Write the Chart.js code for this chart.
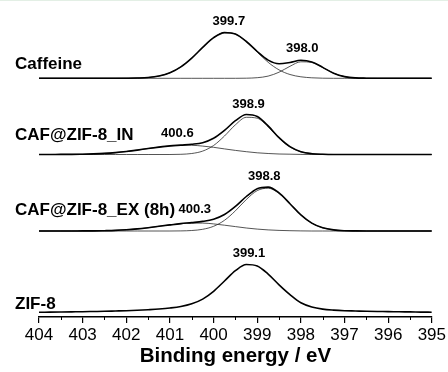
<!DOCTYPE html>
<html>
<head>
<meta charset="utf-8">
<script src="https://cdn.jsdelivr.net/npm/chart.js@4"></script>
<style>
    body { margin: 0; background: #fff; }
    #topline { position: absolute; top: 0; left: 0; width: 448px; height: 1px; background: #e3efe5; }
</style>
</head>
<body>
<div id="topline"></div>
<canvas id="xpsChart" width="448" height="372"></canvas>
<script>
// Binding energy grid (eV)
const energy = [404, 403.75, 403.5, 403.25, 403, 402.75, 402.5, 402.25, 402, 401.75, 401.5, 401.25, 401,
    400.75, 400.5, 400.25, 400, 399.75, 399.5, 399.25, 399, 398.75, 398.5, 398.25, 398, 397.75, 397.5,
    397.25, 397, 396.75, 396.5, 396.25, 396, 395.75, 395.5, 395.25, 395];

// Intensities (a.u.), relative to each spectrum's baseline
const caffeineEnv = [0, 0, 0, 0, 0, 0, 0, 0, 0.1, 0.3, 0.8, 2.3, 5.5, 11.4, 20.2, 30.9, 40.6, 45.7, 44.2, 36.8, 26.8, 18.2, 14.5, 15.8, 18.0, 16.4, 10.9, 5.1, 1.7, 0.4, 0.1, 0, 0, 0, 0, 0, 0];
const caffeineC1 = [0, 0, 0, 0, 0, 0, 0, 0, 0.1, 0.3, 0.8, 2.3, 5.5, 11.4, 20.2, 30.9, 40.6, 45.7, 44.2, 36.7, 26.2, 16.0, 8.4, 3.8, 1.5, 0.5, 0.1, 0, 0, 0, 0, 0, 0, 0, 0, 0, 0];
const caffeineC2 = [0, 0, 0, 0, 0, 0, 0, 0, 0, 0, 0, 0, 0, 0, 0, 0, 0, 0, 0, 0.1, 0.6, 2.2, 6.1, 12.0, 16.5, 15.9, 10.8, 5.1, 1.7, 0.4, 0.1, 0, 0, 0, 0, 0, 0];

const inEnv = [0, 0, 0.1, 0.1, 0.3, 0.6, 1.1, 1.9, 3.0, 4.4, 6.0, 7.4, 8.6, 9.4, 10.2, 11.8, 16.2, 24.1, 33.8, 40.0, 38.0, 28.6, 16.8, 7.8, 2.8, 0.8, 0.2, 0, 0, 0, 0, 0, 0, 0, 0, 0, 0];
const inC1 = [0, 0, 0, 0, 0, 0, 0, 0, 0, 0, 0, 0, 0, 0.2, 1.0, 3.4, 9.0, 18.5, 29.7, 37.2, 36.3, 27.6, 16.3, 7.5, 2.7, 0.8, 0.2, 0, 0, 0, 0, 0, 0, 0, 0, 0, 0];
const inC2 = [0, 0, 0.1, 0.1, 0.3, 0.6, 1.1, 1.9, 3.0, 4.4, 6.0, 7.4, 8.6, 9.2, 9.2, 8.4, 7.2, 5.6, 4.1, 2.8, 1.7, 1.0, 0.5, 0.3, 0.1, 0, 0, 0, 0, 0, 0, 0, 0, 0, 0, 0, 0];

const exEnv = [0, 0, 0, 0, 0.1, 0.1, 0.3, 0.6, 1.2, 2.1, 3.3, 4.7, 6.1, 7.4, 8.4, 9.6, 11.8, 16.5, 24.6, 34.5, 42.3, 43.9, 38.1, 27.3, 16.2, 7.9, 3.2, 1.1, 0.3, 0.1, 0, 0, 0, 0, 0, 0, 0];
const exC1 = [0, 0, 0, 0, 0, 0, 0, 0, 0, 0, 0, 0, 0, 0.1, 0.5, 1.7, 4.7, 10.7, 20.2, 31.5, 40.4, 42.8, 37.5, 27.0, 16.1, 7.9, 3.2, 1.1, 0.3, 0.1, 0, 0, 0, 0, 0, 0, 0];
const exC2 = [0, 0, 0, 0, 0.1, 0.1, 0.3, 0.6, 1.2, 2.1, 3.3, 4.7, 6.1, 7.3, 7.9, 7.9, 7.1, 5.8, 4.4, 3.0, 1.9, 1.1, 0.6, 0.3, 0.1, 0, 0, 0, 0, 0, 0, 0, 0, 0, 0, 0, 0];

const zif8 = [0, 0.15, 0.3, 0.45, 0.6, 0.8, 1.0, 1.3, 1.6, 2.0, 2.6, 3.3, 4.3, 5.8, 8.5, 13.2, 21.0, 31.3, 41.6, 47.8, 46.3, 38.2, 27.5, 17.7, 9.5, 5.3, 3.2, 2.2, 1.6, 1.3, 1.0, 0.8, 0.7, 0.5, 0.4, 0.2, 0.1];

// Sample names, top to bottom
const samples = ['Caffeine', 'CAF@ZIF-8_IN', 'CAF@ZIF-8_EX (8h)', 'ZIF-8'];

// Peak labels: text, energy (eV), spectrum index
const peakText = ['399.7', '398.0', '398.9', '400.6', '398.8', '400.3', '399.1'];
const peakEnergy = [399.65, 397.97, 399.2, 400.83, 398.84, 400.43, 399.19];
const peakSpectrum = [0, 0, 1, 1, 2, 2, 3];

// X axis ticks
const majorTicks = [404, 403, 402, 401, 400, 399, 398, 397, 396, 395];
const minorTicks = [403.5, 402.5, 401.5, 400.5, 399.5, 398.5, 397.5, 396.5, 395.5];

// Layout: vertical stacking of the spectra and label lifts
const offsets = [238.7, 162.5, 86, 4.7];
const nameLift = [9.6, 14.3, 16.3, 3.6];
const peakLift = [56.6, 29.6, 50.5, 21.3, 54.3, 21.3, 59.3];

Chart.defaults.font.family = '"Liberation Sans", Arial, Helvetica, sans-serif';
Chart.defaults.color = '#000';

function toPoints(values, offset) {
    return energy.map((e, i) => ({ x: e, y: values[i] + offset }));
}

function line(values, offset, thick) {
    return {
        data: toPoints(values, offset),
        borderColor: thick ? '#000' : '#2a2a2a',
        borderWidth: thick ? 1.6 : 0.8,
        pointRadius: 0,
        fill: false,
        cubicInterpolationMode: 'monotone'
    };
}

const datasets = [
    line(caffeineEnv, offsets[0], true),
    line(inEnv, offsets[1], true),
    line(exEnv, offsets[2], true),
    line(zif8, offsets[3], true),
    line(caffeineC1, offsets[0], false),
    line(caffeineC2, offsets[0], false),
    line(inC1, offsets[1], false),
    line(inC2, offsets[1], false),
    line(exC1, offsets[2], false),
    line(exC2, offsets[2], false)
];

const annotate = {
    id: 'annotate',
    afterDraw(chart) {
        const { ctx, scales: { x, y } } = chart;
        ctx.save();

        // minor ticks on the energy axis
        ctx.strokeStyle = '#000';
        ctx.lineWidth = 1;
        minorTicks.forEach(v => {
            const px = Math.round(x.getPixelForValue(v)) + 0.5;
            ctx.beginPath();
            ctx.moveTo(px, x.top);
            ctx.lineTo(px, x.top + 3);
            ctx.stroke();
        });

        // sample names
        ctx.fillStyle = '#000';
        ctx.font = 'bold 17px "Liberation Sans", Arial, sans-serif';
        ctx.textAlign = 'left';
        ctx.textBaseline = 'alphabetic';
        samples.forEach((name, i) => {
            ctx.fillText(name, 15, y.getPixelForValue(offsets[i] + nameLift[i]));
        });

        // peak positions
        ctx.font = 'bold 13px "Liberation Sans", Arial, sans-serif';
        ctx.textAlign = 'center';
        ctx.textBaseline = 'middle';
        peakText.forEach((t, i) => {
            const s = peakSpectrum[i];
            ctx.fillText(t, x.getPixelForValue(peakEnergy[i]), y.getPixelForValue(offsets[s] + peakLift[i]));
        });

        ctx.restore();
    }
};

new Chart(document.getElementById('xpsChart').getContext('2d'), {
    type: 'line',
    data: { datasets: datasets },
    options: {
        responsive: false,
        animation: false,
        devicePixelRatio: 1,
        layout: { padding: { left: 39, right: 15, top: 0, bottom: 0 } },
        plugins: { legend: { display: false }, tooltip: { enabled: false } },
        scales: {
            x: {
                type: 'linear',
                reverse: true,
                min: 395,
                max: 404,
                afterFit: scale => { scale.height = 55; },
                afterBuildTicks: scale => { scale.ticks = majorTicks.map(v => ({ value: v })); },
                border: { display: true, color: '#000', width: 1.5 },
                grid: { drawOnChartArea: false, color: '#000', lineWidth: 1.2, tickLength: 6 },
                ticks: { font: { size: 17 }, color: '#000', padding: 2, maxRotation: 0, autoSkip: false },
                title: {
                    display: true,
                    text: 'Binding energy / eV',
                    font: { size: 20.5, weight: 'bold' },
                    color: '#000',
                    padding: { top: 0, bottom: 3 }
                }
            },
            y: { display: false, min: 0, max: 317 }
        }
    },
    plugins: [annotate]
});
</script>
</body>
</html>
